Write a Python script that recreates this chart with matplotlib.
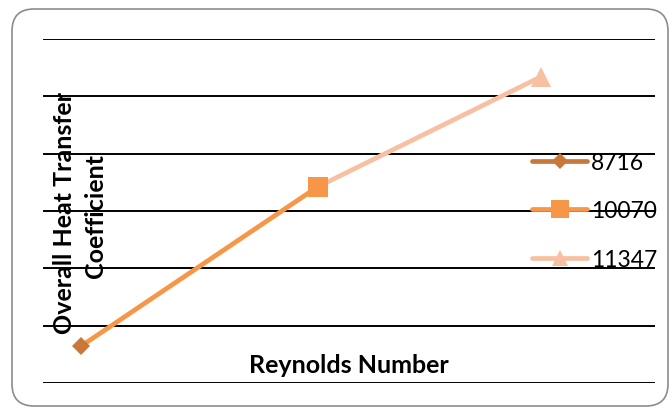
import matplotlib
matplotlib.use("Agg")
import matplotlib.pyplot as plt
from matplotlib.lines import Line2D
from matplotlib.patches import FancyBboxPatch
from matplotlib.transforms import IdentityTransform

# ---- data ----
reynolds = [8716, 10070, 11347]
coefficient = [64, 342, 534]
series_labels = ["8716", "10070", "11347"]
y_label_lines = ["Overall Heat Transfer", "Coefficient"]
x_label = "Reynolds Number"

colors = ["#C8793A", "#F79646", "#F8C0A3"]
markers = ["D", "s", "^"]
plot_ms = [9.5, 14.0, 14.5]
legend_ms = [8.5, 13.0, 12.0]

W, H, DPI = 672, 410, 100
plt.rcParams['font.family'] = ['Lato', 'DejaVu Sans']
fig = plt.figure(figsize=(W / DPI, H / DPI), dpi=DPI)

def px(x, y):
    return x / W, 1 - y / H

left, right, top, bottom = 43, 655, 40, 384
ax = fig.add_axes([left / W, 1 - bottom / H, (right - left) / W, (bottom - top) / H])
ax.set_xlim(8500, 12000)
ax.set_ylim(0, 600)
ax.set_yticks(range(0, 601, 100))
ax.yaxis.grid(True, color="black", linewidth=1.4)
ax.set_axisbelow(True)
ax.tick_params(left=False, bottom=False, labelleft=False, labelbottom=False)
for s in ax.spines.values():
    s.set_visible(False)
ax.patch.set_alpha(0)

# series: each one links the previous point to its own point
handles = []
for i, (lab, c, m) in enumerate(zip(series_labels, colors, markers)):
    if i > 0:
        ax.plot(reynolds[i - 1:i + 1], coefficient[i - 1:i + 1], color=c,
                linewidth=3.4, solid_capstyle="butt", zorder=2, clip_on=False)
    ax.plot([reynolds[i]], [coefficient[i]], linestyle="none", marker=m,
            markersize=plot_ms[i], color=c, markeredgewidth=0, zorder=3, clip_on=False)
    handles.append(Line2D([], [], color=c, linewidth=3.4, marker=m,
                          markersize=legend_ms[i], markeredgewidth=0,
                          solid_capstyle="round"))

leg = ax.legend(handles, series_labels, loc="center left",
                bbox_to_anchor=(532 / W, 1 - 212 / H), bbox_transform=fig.transFigure,
                frameon=False, fontsize=16.5, handlelength=2.4, handletextpad=0.18,
                labelspacing=1.22, borderpad=0, borderaxespad=0)

# axis titles
fig.text(*px(64, 213), y_label_lines[0], rotation=90, ha="center", va="center",
         fontsize=18, fontweight="bold")
fig.text(*px(95, 216), y_label_lines[1], rotation=90, ha="center", va="center",
         fontsize=18, fontweight="bold")
fig.text(*px(349, 366), x_label, ha="center", va="center",
         fontsize=18, fontweight="bold")

# rounded chart border
border = FancyBboxPatch((12, H - 407), 656, 397,
                        boxstyle="round,pad=0,rounding_size=22",
                        transform=IdentityTransform(), facecolor="none",
                        edgecolor="#8C8C8C", linewidth=1.2)
fig.patches.append(border)

fig.savefig("out.png", dpi=DPI)
